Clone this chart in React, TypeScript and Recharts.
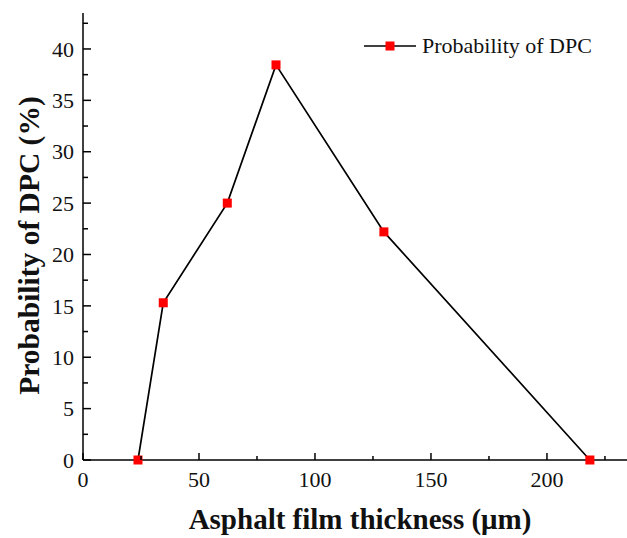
import React from 'react';
import { LineChart, Line, XAxis, YAxis, Legend } from 'recharts';

const thickness = [23.7, 34.6, 62.2, 83.2, 129.7, 218.5];
const probability = [0, 15.3, 25.0, 38.45, 22.2, 0];
const xTicks = [0, 25, 50, 75, 100, 125, 150, 175, 200, 225];
const yTicks = [0, 2.5, 5, 7.5, 10, 12.5, 15, 17.5, 20, 22.5, 25, 27.5, 30, 32.5, 35, 37.5, 40, 42.5];
const seriesName = 'Probability of DPC';
const xTitle = 'Asphalt film thickness (\u03bcm)';
const yTitle = 'Probability of DPC (%)';

const data = thickness.map((x, i) => ({ x, y: probability[i] }));

const FONT = "'Liberation Serif', 'Times New Roman', serif";

const XTick = (props: any) => {
  const { x, y, payload } = props;
  const major = payload.value % 50 === 0;
  return (
    <g>
      <line x1={x} x2={x} y1={y} y2={y - (major ? 7 : 4)} stroke="#000" strokeWidth={1.5} />
      {major && (
        <text x={x} y={y + 27} textAnchor="middle" fontFamily={FONT} fontSize={22} fill="#111">
          {payload.value}
        </text>
      )}
    </g>
  );
};

const YTick = (props: any) => {
  const { x, y, payload } = props;
  const major = payload.value % 5 === 0;
  return (
    <g>
      <line x1={x} x2={x + (major ? 8 : 5)} y1={y} y2={y} stroke="#000" strokeWidth={1.5} />
      {major && (
        <text x={x - 9} y={y} dy="0.35em" textAnchor="end" fontFamily={FONT} fontSize={22} fill="#111">
          {payload.value}
        </text>
      )}
    </g>
  );
};

const SquareDot = (props: any) => {
  const { cx, cy, index } = props;
  return <rect key={`d-${index}`} x={cx - 4.5} y={cy - 4.5} width={9} height={9} fill="#ff0000" />;
};

const XTitle = (props: any) => {
  const { viewBox } = props;
  return (
    <text
      x={viewBox.x + viewBox.width / 2 + 5}
      y={viewBox.y + viewBox.height - 9}
      textAnchor="middle"
      fontFamily={FONT}
      fontWeight="bold"
      fontSize={29}
      fill="#111"
    >
      {xTitle}
    </text>
  );
};

const YTitle = (props: any) => {
  const { viewBox } = props;
  const cx = viewBox.x + 29;
  const cy = viewBox.y + viewBox.height / 2 + 9;
  return (
    <text
      x={cx}
      y={cy}
      dy="0.35em"
      transform={`rotate(-90, ${cx}, ${cy})`}
      textAnchor="middle"
      fontFamily={FONT}
      fontWeight="bold"
      fontSize={29.5}
      fill="#111"
    >
      {yTitle}
    </text>
  );
};

const LegendContent = () => (
  <div style={{ display: 'flex', alignItems: 'center', fontFamily: FONT, fontSize: 22, color: '#111', whiteSpace: 'nowrap' }}>
    <svg width={52} height={16} style={{ display: 'block' }}>
      <line x1={0} x2={52} y1={8} y2={8} stroke="#000" strokeWidth={1.6} />
      <rect x={21.5} y={3.5} width={9} height={9} fill="#ff0000" />
    </svg>
    <span style={{ marginLeft: 6 }}>{seriesName}</span>
  </div>
);

export default function App() {
  return (
    <div style={{ position: 'absolute', left: 0, top: 0, background: '#fff' }}>
      <LineChart width={627} height={538} data={data} margin={{ top: 13, right: 0, bottom: 0, left: 0 }}>
        <XAxis
          dataKey="x"
          type="number"
          domain={[0, 234.5]}
          ticks={xTicks}
          interval={0}
          height={78}
          tickSize={0}
          tickMargin={0}
          tickLine={false}
          tick={<XTick />}
          axisLine={{ stroke: '#000', strokeWidth: 1.5 }}
          label={XTitle}
        />
        <XAxis
          xAxisId="top"
          orientation="top"
          type="number"
          domain={[0, 234.5]}
          height={0}
          tick={false}
          tickLine={false}
          axisLine={{ stroke: '#000', strokeWidth: 1.5 }}
        />
        <YAxis
          type="number"
          domain={[0, 43.5]}
          ticks={yTicks}
          interval={0}
          width={83}
          tickSize={0}
          tickMargin={0}
          tickLine={false}
          tick={<YTick />}
          axisLine={{ stroke: '#000', strokeWidth: 1.5 }}
          label={YTitle}
        />
        <Legend
          layout="vertical"
          align="center"
          verticalAlign="middle"
          content={<LegendContent />}
          wrapperStyle={{ top: 33, left: 364, width: 'auto' }}
        />
        <Line
          dataKey="y"
          name={seriesName}
          stroke="#000"
          strokeWidth={1.7}
          dot={SquareDot}
          activeDot={false}
          isAnimationActive={false}
        />
      </LineChart>
    </div>
  );
}
